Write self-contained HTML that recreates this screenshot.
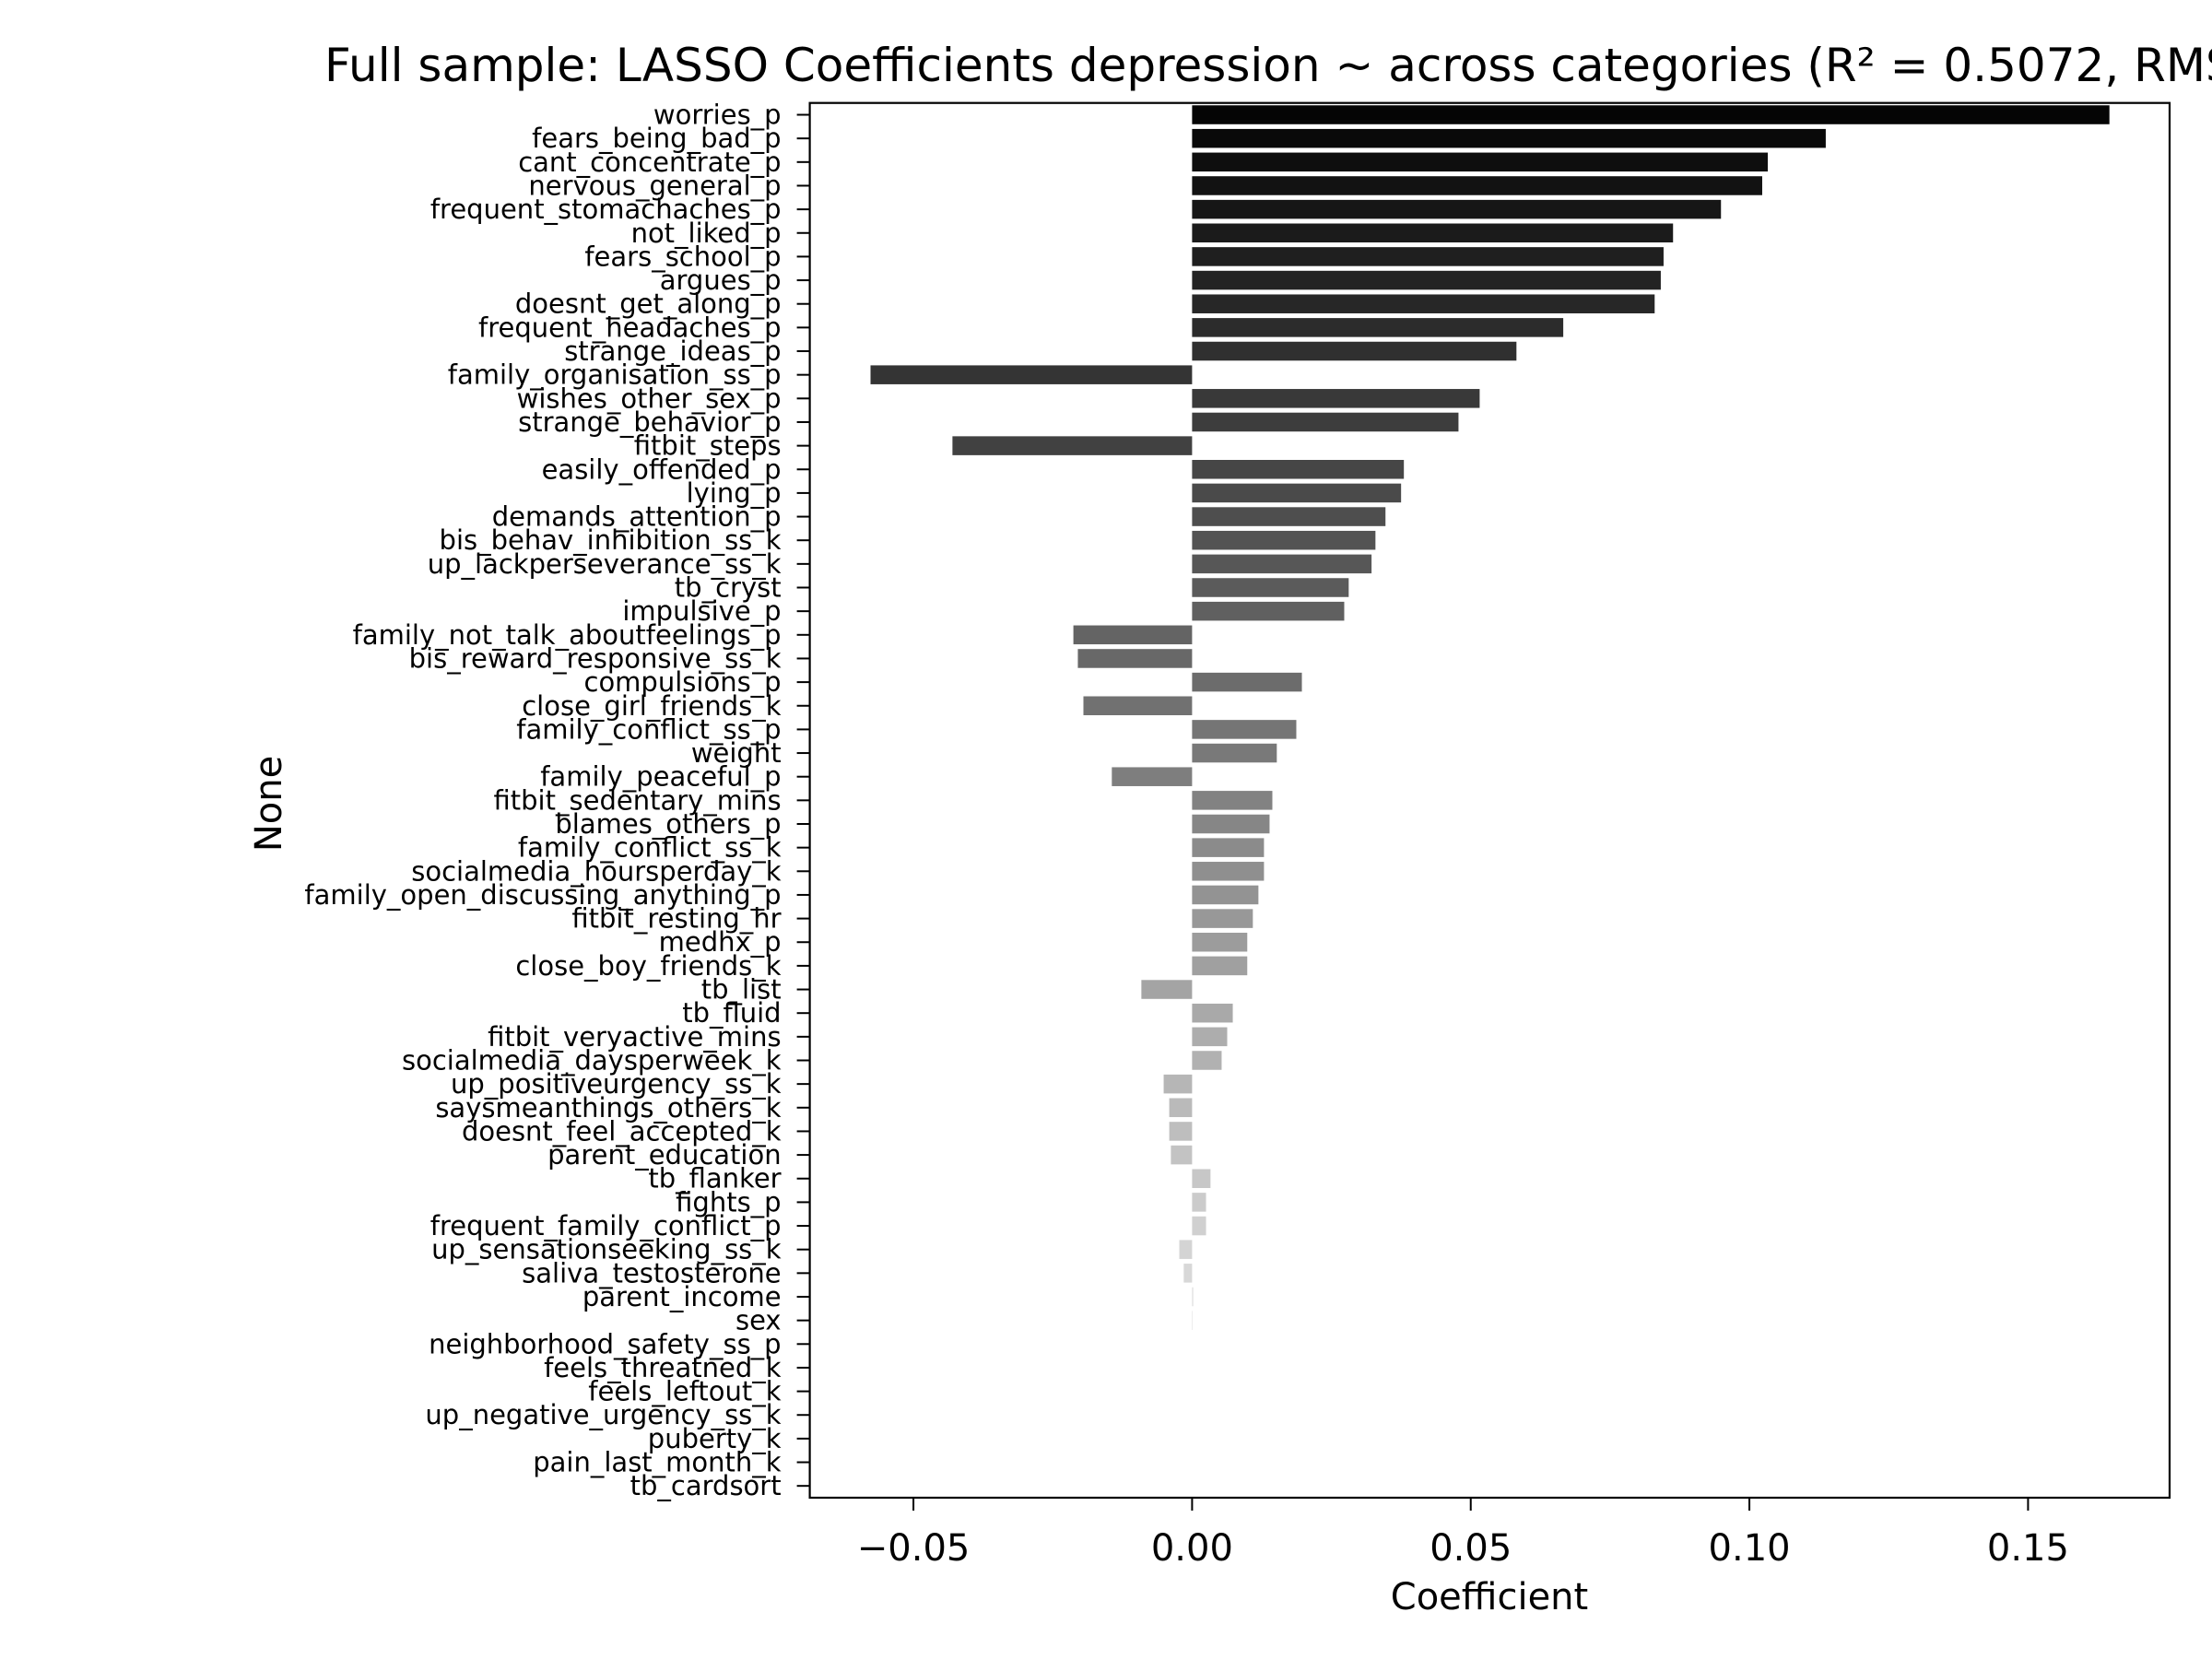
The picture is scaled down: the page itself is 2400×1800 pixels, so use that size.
<!DOCTYPE html>
<html><head><meta charset="utf-8"><style>
html,body{margin:0;padding:0;background:#fff;}
svg{display:block;font-family:"DejaVu Sans","Liberation Sans",sans-serif;}
</style></head><body>
<svg id="chart" width="2400" height="1800" viewBox="0 0 2400 1800">
<rect width="2400" height="1800" fill="#fff"/>
<text x="352" y="88" font-size="50" fill="#000">Full sample: LASSO Coefficients depression ~ across categories (R² = 0.5072, RMSE = 0.0</text>
<g id="bars"></g>
<g id="yticks"></g>
<g id="xticks"></g>
<rect x="878.6" y="111.7" width="1475.4" height="1513.3" fill="none" stroke="#000" stroke-width="2.2"/>
<text x="1616" y="1746" font-size="40" text-anchor="middle">Coefficient</text>
<text transform="translate(305,872) rotate(-90)" font-size="40" text-anchor="middle">None</text>
</svg>
<script>
const categories=["worries_p","fears_being_bad_p","cant_concentrate_p","nervous_general_p","frequent_stomachaches_p","not_liked_p","fears_school_p","argues_p","doesnt_get_along_p","frequent_headaches_p","strange_ideas_p","family_organisation_ss_p","wishes_other_sex_p","strange_behavior_p","fitbit_steps","easily_offended_p","lying_p","demands_attention_p","bis_behav_inhibition_ss_k","up_lackperseverance_ss_k","tb_cryst","impulsive_p","family_not_talk_aboutfeelings_p","bis_reward_responsive_ss_k","compulsions_p","close_girl_friends_k","family_conflict_ss_p","weight","family_peaceful_p","fitbit_sedentary_mins","blames_others_p","family_conflict_ss_k","socialmedia_hoursperday_k","family_open_discussing_anything_p","fitbit_resting_hr","medhx_p","close_boy_friends_k","tb_list","tb_fluid","fitbit_veryactive_mins","socialmedia_daysperweek_k","up_positiveurgency_ss_k","saysmeanthings_others_k","doesnt_feel_accepted_k","parent_education","tb_flanker","fights_p","frequent_family_conflict_p","up_sensationseeking_ss_k","saliva_testosterone","parent_income","sex","neighborhood_safety_ss_p","feels_threatned_k","feels_leftout_k","up_negative_urgency_ss_k","puberty_k","pain_last_month_k","tb_cardsort"];
const values=[0.1646,0.1137,0.1033,0.1023,0.0949,0.0863,0.0846,0.0841,0.0830,0.0666,0.0582,-0.0577,0.0516,0.0478,-0.0430,0.0380,0.0375,0.0347,0.0329,0.0322,0.0281,0.0273,-0.0213,-0.0205,0.0197,-0.0195,0.0187,0.0152,-0.0144,0.0144,0.0139,0.0129,0.0129,0.0119,0.0109,0.0099,0.0099,-0.0091,0.0073,0.0063,0.0053,-0.0051,-0.0041,-0.0041,-0.0038,0.0033,0.0025,0.0025,-0.0023,-0.0015,0.0002,0.0001,0,0,0,0,0,0,0];
const xTicks=[-0.05,0,0.05,0.10,0.15];
const xTickLabels=["−0.05","0.00","0.05","0.10","0.15"];
const NS="http://www.w3.org/2000/svg";
const L=878.6,R=2354,T=111.7,B=1625;
const xMin=-0.0686,xMax=0.1754;
const xs=v=>L+(v-xMin)/(xMax-xMin)*(R-L);
const n=categories.length;
const step=(B-T)/n;
const ys=i=>T+(i+0.5)*step;
const bars=document.getElementById('bars'),yt=document.getElementById('yticks'),xt=document.getElementById('xticks');
categories.forEach((c,i)=>{
  const v=values[i];
  const g=Math.round(5+i/(n-1)*250);
  const r=document.createElementNS(NS,'rect');
  const x0=xs(0),x1=xs(v);
  r.setAttribute('x',Math.min(x0,x1));r.setAttribute('width',Math.abs(x1-x0));
  r.setAttribute('y',ys(i)-step*0.4);r.setAttribute('height',step*0.8);
  r.setAttribute('fill',`rgb(${g},${g},${g})`);
  
  
  bars.appendChild(r);
  const tk=document.createElementNS(NS,'line');
  tk.setAttribute('x1',L-14);tk.setAttribute('x2',L);tk.setAttribute('y1',ys(i));tk.setAttribute('y2',ys(i));
  tk.setAttribute('stroke','#000');tk.setAttribute('stroke-width','2');
  
  
  yt.appendChild(tk);
  const t=document.createElementNS(NS,'text');
  t.setAttribute('x',L-31);t.setAttribute('y',ys(i)+10);t.setAttribute('text-anchor','end');t.setAttribute('font-size','29');
  t.textContent=c;
  
  
  yt.appendChild(t);
});
xTicks.forEach((v,i)=>{
  const tk=document.createElementNS(NS,'line');
  tk.setAttribute('x1',xs(v));tk.setAttribute('x2',xs(v));tk.setAttribute('y1',B);tk.setAttribute('y2',B+14);
  tk.setAttribute('stroke','#000');tk.setAttribute('stroke-width','2');
  
  
  xt.appendChild(tk);
  const t=document.createElementNS(NS,'text');
  t.setAttribute('x',xs(v));t.setAttribute('y',1693);t.setAttribute('text-anchor','middle');t.setAttribute('font-size','40');
  t.textContent=xTickLabels[i];
  
  
  xt.appendChild(t);
});
</script>
</body></html>
